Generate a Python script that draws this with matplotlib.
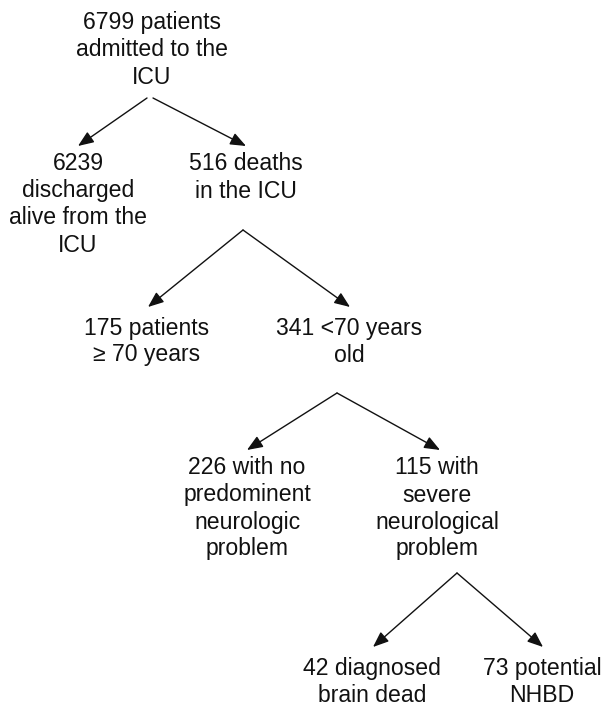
import matplotlib
matplotlib.use("Agg")
import matplotlib.pyplot as plt

# Node labels (flowchart content)
node_labels = [
    "6799 patients\nadmitted to the\nICU",
    "6239\ndischarged\nalive from the\nICU",
    "516 deaths\nin the ICU",
    "175 patients\n\u2265 70 years",
    "341 <70 years\nold",
    "226 with no\npredominent\nneurologic\nproblem",
    "115 with\nsevere\nneurological\nproblem",
    "42 diagnosed\nbrain dead",
    "73 potential\nNHBD",
]
# Edges: (parent index, child index)
edges = [(0, 1), (0, 2), (2, 3), (2, 4), (4, 5), (4, 6), (6, 7), (6, 8)]

# Layout (pixel coordinates): center x, first-line y
node_pos = [
    (152, 23), (78, 164), (246, 164), (147, 328), (349, 328),
    (247, 468), (437, 468), (372, 669), (542, 669),
]
line_step = 27.0
# Arrow start points for each parent, and arrow tips for each child
arrow_start = {0: [(147, 98), (153, 98)], 2: [(243, 230), (243, 230)],
               4: [(337, 393), (337, 393)], 6: [(457, 573), (457, 573)]}
arrow_tip = {1: (78, 146), 2: (246, 146), 3: (148, 307), 4: (350, 307),
             5: (247, 450), 6: (440, 450), 7: (373, 647), 8: (543, 647)}

fig = plt.figure(figsize=(6.05, 7.07), dpi=100)
ax = fig.add_axes([0, 0, 1, 1])
ax.set_xlim(0, 605)
ax.set_ylim(707, 0)
ax.axis("off")

fs = 23 * 72 / 100
for label, (x, y) in zip(node_labels, node_pos):
    for i, line in enumerate(label.split("\n")):
        ax.text(x, y + i * line_step, line, ha="center", va="center",
                fontsize=fs, family=["Liberation Sans", "DejaVu Sans"],
                color="#111111")

count = {}
for p, c in edges:
    k = count.get(p, 0)
    count[p] = k + 1
    start = arrow_start[p][k]
    tip = arrow_tip[c]
    ax.annotate("", xy=tip, xytext=start,
                arrowprops=dict(arrowstyle="-|>,head_length=0.95,head_width=0.38",
                                mutation_scale=10, lw=1.0, color="#111111",
                                shrinkA=0, shrinkB=0))

fig.savefig("out.png", dpi=100)
